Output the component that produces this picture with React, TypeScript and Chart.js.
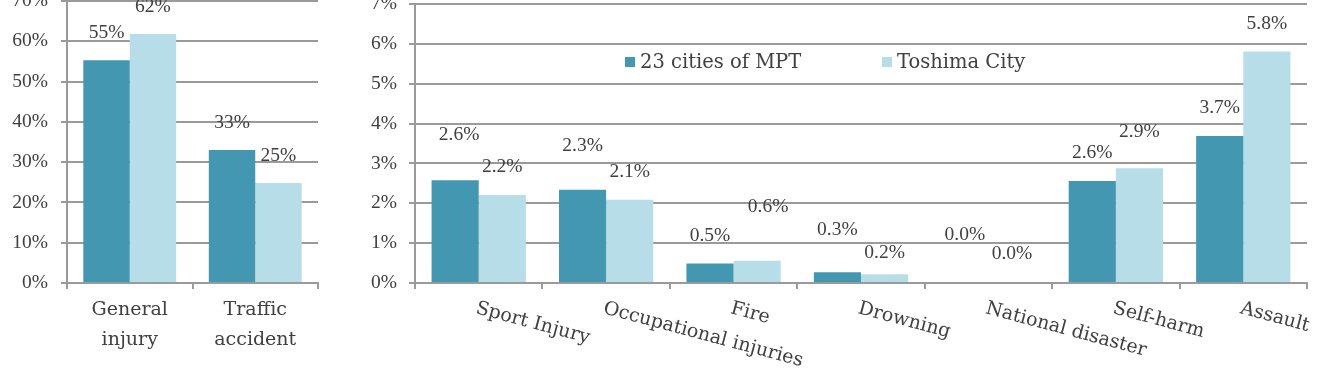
import React, { useEffect, useRef } from 'react';
import { Chart, registerables } from 'chart.js';

Chart.register(...registerables);

// ---- data ----
const seriesNames = ['23 cities of MPT', 'Toshima City'];

const leftCategories = [['General', 'injury'], ['Traffic', 'accident']];
const leftMPT = [55.3, 33.0];
const leftToshima = [61.8, 24.8];
const leftTickMax = 70;
const leftTickStep = 10;

const rightCategories = [
  'Sport Injury',
  'Occupational injuries',
  'Fire',
  'Drowning',
  'National disaster',
  'Self-harm',
  'Assault',
];
const rightMPT = [2.58, 2.34, 0.49, 0.27, 0.0, 2.56, 3.69];
const rightToshima = [2.21, 2.09, 0.56, 0.22, 0.0, 2.88, 5.81];
const rightTickMax = 7;
const rightTickStep = 1;

// ---- styling / label placement (not data) ----
const DARK = '#4397b0';
const LIGHT = '#b7dee8';
const GRID = '#9a9a9a';
const TEXT = '#404040';
const FONT = '"DejaVu Serif", serif';
const NUM_FONT = '"Liberation Serif", serif';
const NUM_SIZE = 19.5;

const leftLabelLift = [[27, 27], [27, 27]];
const leftLabelShift = [[0, 0], [0, 0]];
const rightLabelLift = [
  [45, 44, 28, 42, 48, 28, 28],
  [28, 28, 54, 21, 29, 36, 28],
];
const rightLabelShift = [
  [4, 0, 0, 0, 0, 0, 0],
  [0, 0, 11, 0, 0, 0, 0],
];

const CANVAS_TOP = -30;
const CANVAS_H = 408;
const ZERO_Y = 283; // page y of the 0 baseline

function valueLabelPlugin(lift: number[][], shift: number[][], decimals: number) {
  return {
    id: 'valueLabels',
    afterDatasetsDraw(chart: any) {
      const ctx = chart.ctx;
      ctx.save();
      ctx.font = `${NUM_SIZE}px ${NUM_FONT}`;
      ctx.fillStyle = TEXT;
      ctx.textAlign = 'center';
      ctx.textBaseline = 'middle';
      chart.data.datasets.forEach((ds: any, di: number) => {
        const meta = chart.getDatasetMeta(di);
        meta.data.forEach((el: any, i: number) => {
          const v = ds.data[i] as number;
          ctx.fillText(v.toFixed(decimals) + '%', el.x + shift[di][i], el.y - lift[di][i]);
        });
      });
      ctx.restore();
    },
  };
}

const rotatedLabelPlugin = {
  id: 'rotatedLabels',
  afterDraw(chart: any) {
    const ctx = chart.ctx;
    const xs = chart.scales.x;
    ctx.save();
    ctx.font = `19px ${FONT}`;
    ctx.fillStyle = TEXT;
    ctx.textAlign = 'left';
    ctx.textBaseline = 'top';
    (chart.data.labels as string[]).forEach((lab, i) => {
      const x = xs.getPixelForValue(i);
      const y = chart.chartArea.bottom + 16;
      ctx.save();
      ctx.translate(x, y);
      ctx.rotate((15 * Math.PI) / 180);
      ctx.fillText(lab, 0, 0);
      ctx.restore();
    });
    ctx.restore();
  },
};

const insideLegendPlugin = {
  id: 'insideLegend',
  afterDraw(chart: any) {
    const ctx = chart.ctx;
    const ca = chart.chartArea;
    const offsets = [210, 467];
    const cy = ca.top + 58;
    ctx.save();
    ctx.font = `19.5px ${FONT}`;
    ctx.textAlign = 'left';
    ctx.textBaseline = 'middle';
    chart.data.datasets.forEach((ds: any, i: number) => {
      const x = ca.left + offsets[i];
      ctx.fillStyle = ds.backgroundColor;
      ctx.fillRect(x, cy - 5, 10, 10);
      ctx.fillStyle = TEXT;
      ctx.fillText(ds.label, x + 15, cy + 1);
    });
    ctx.restore();
  },
};

function buildConfig(opts: {
  labels: any[];
  a: number[];
  b: number[];
  max: number;
  step: number;
  yWidth: number;
  padTop: number;
  padRight: number;
  tickPad: number;
  showX: boolean;
  plugins: any[];
}) {
  return {
    type: 'bar',
    data: {
      labels: opts.labels,
      datasets: [
        {
          label: seriesNames[0],
          data: opts.a,
          backgroundColor: DARK,
          categoryPercentage: 0.74,
          barPercentage: 1.0,
        },
        {
          label: seriesNames[1],
          data: opts.b,
          backgroundColor: LIGHT,
          categoryPercentage: 0.74,
          barPercentage: 1.0,
        },
      ],
    },
    options: {
      animation: false,
      responsive: false,
      maintainAspectRatio: false,
      devicePixelRatio: 1,
      layout: { padding: { top: opts.padTop, right: opts.padRight, left: 0, bottom: 0 } },
      plugins: {
        legend: { display: false },
        tooltip: { enabled: false },
      },
      scales: {
        x: {
          offset: true,
          grid: {
            display: true,
            offset: true,
            drawOnChartArea: false,
            drawTicks: true,
            tickLength: 6,
            color: GRID,
            lineWidth: 2,
          },
          border: { display: true, color: GRID, width: 2 },
          ticks: {
            display: opts.showX,
            maxRotation: 0,
            minRotation: 0,
            autoSkip: false,
            padding: 6,
            color: TEXT,
            font: { family: FONT, size: 19, lineHeight: '30px' },
          },
          afterFit(scale: any) {
            scale.height = CANVAS_H - (ZERO_Y - CANVAS_TOP);
          },
        },
        y: {
          min: 0,
          max: opts.max,
          grid: {
            color: GRID,
            lineWidth: 2,
            drawTicks: true,
            tickLength: 6,
          },
          border: { display: true, color: GRID, width: 2 },
          ticks: {
            stepSize: opts.step,
            padding: opts.tickPad,
            color: TEXT,
            font: { family: NUM_FONT, size: NUM_SIZE },
            callback: (v: any) => v + '%',
          },
          afterFit(scale: any) {
            scale.width = opts.yWidth;
          },
        },
      },
    },
    plugins: opts.plugins,
  } as any;
}

function BarCanvas({ left, width, config }: { left: number; width: number; config: any }) {
  const ref = useRef<HTMLCanvasElement | null>(null);
  useEffect(() => {
    if (!ref.current) return;
    const chart = new Chart(ref.current, config);
    return () => chart.destroy();
  }, [config]);
  return (
    <canvas
      ref={ref}
      width={width}
      height={CANVAS_H}
      style={{ position: 'absolute', left, top: CANVAS_TOP, width, height: CANVAS_H }}
    />
  );
}

const leftConfig = buildConfig({
  labels: leftCategories,
  a: leftMPT,
  b: leftToshima,
  max: leftTickMax,
  step: leftTickStep,
  yWidth: 67,
  padTop: 31,
  padRight: 12,
  tickPad: 13,
  showX: true,
  plugins: [valueLabelPlugin(leftLabelLift, leftLabelShift, 0)],
});

const rightConfig = buildConfig({
  labels: rightCategories,
  a: rightMPT,
  b: rightToshima,
  max: rightTickMax,
  step: rightTickStep,
  yWidth: 85,
  padTop: 34,
  padRight: 18,
  tickPad: 12,
  showX: false,
  plugins: [valueLabelPlugin(rightLabelLift, rightLabelShift, 1), rotatedLabelPlugin, insideLegendPlugin],
});

export default function App() {
  return (
    <div
      style={{
        position: 'fixed',
        left: 0,
        top: 0,
        width: 1325,
        height: 378,
        overflow: 'hidden',
        background: '#ffffff',
      }}
    >
      <BarCanvas left={0} width={330} config={leftConfig} />
      <BarCanvas left={330} width={995} config={rightConfig} />
    </div>
  );
}
